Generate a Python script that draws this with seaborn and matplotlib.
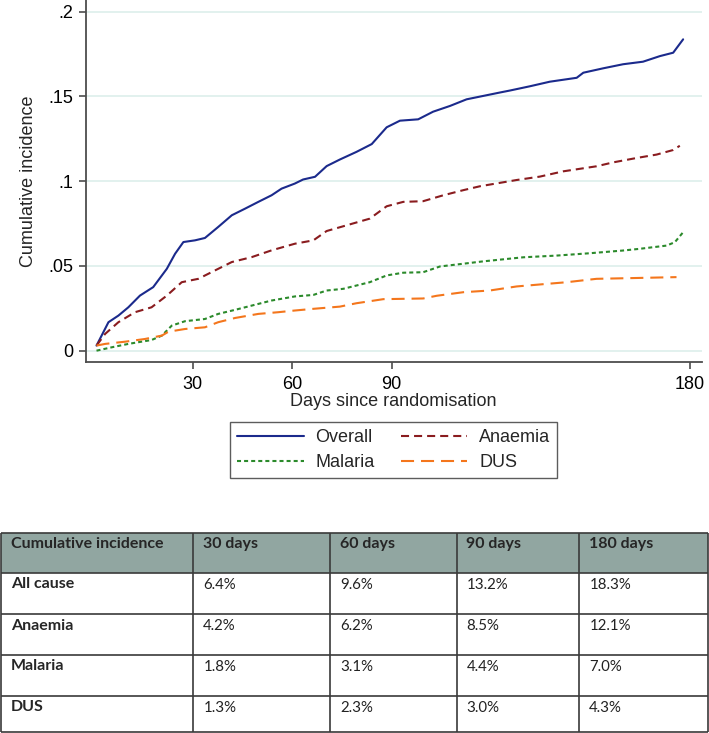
import numpy as np
import pandas as pd
import matplotlib
matplotlib.use("Agg")
import matplotlib.pyplot as plt
from matplotlib.lines import Line2D
import seaborn as sns

# cumulative incidence curves (day, value)
overall_days = [1, 4.6, 7.6, 10.6, 14.1, 18.1, 22.2, 24.7, 27.2, 30.7, 33.7, 37.7, 41.8, 45.8, 49.8,
                53.8, 56.8, 60.8, 63.3, 66.9, 70.4, 74.4, 79.4, 84.0, 88.5, 92.5, 98.0, 102.5, 107.6,
                112.6, 117.6, 122.6, 125.7, 131.7, 137.7, 145.8, 147.8, 153.8, 159.8, 165.8, 170.9,
                174.9, 177.9]
overall_vals = [0.003, 0.0168, 0.0207, 0.0256, 0.0325, 0.0375, 0.0483, 0.0572, 0.0641, 0.0651, 0.0665,
                0.073, 0.0799, 0.0838, 0.0878, 0.0917, 0.0956, 0.0986, 0.101, 0.1026, 0.1089, 0.1128,
                0.1173, 0.1219, 0.1318, 0.1357, 0.1365, 0.141, 0.1444, 0.1483, 0.1503, 0.1523, 0.1535,
                0.156, 0.1587, 0.161, 0.164, 0.1666, 0.169, 0.1705, 0.1738, 0.1758, 0.1837]

anaemia_days = [1, 3.6, 7.6, 12.6, 17.6, 22.2, 26.7, 31.7, 37.7, 41.8, 47.8, 53.8, 60.8, 66.4, 70.4,
                75.4, 83.4, 88.5, 93.5, 99.5, 105.6, 111.6, 116.6, 122.6, 127.7, 134.7, 141.7, 151.8,
                156.8, 163.9, 169.9, 174.9, 176.9]
anaemia_vals = [0.003, 0.0099, 0.0168, 0.0227, 0.0256, 0.0325, 0.0404, 0.0424, 0.0483, 0.0523, 0.0552,
                0.0592, 0.0631, 0.0651, 0.0706, 0.0734, 0.0779, 0.0852, 0.0878, 0.0882, 0.0917, 0.0947,
                0.097, 0.099, 0.1007, 0.1027, 0.1058, 0.1088, 0.1111, 0.1137, 0.1157, 0.1184, 0.1209]

malaria_days = [1, 5.6, 10.6, 17.6, 20.7, 23.7, 27.7, 33.7, 37.7, 42.8, 47.8, 53.8, 60.8, 66.4, 70.4,
                75.4, 83.4, 88.5, 93.5, 99.5, 104.6, 111.6, 117.6, 122.6, 129.7, 139.7, 149.8, 159.8,
                164.8, 172.9, 175.4, 177.9]
malaria_vals = [0.0, 0.002, 0.004, 0.0063, 0.0089, 0.0148, 0.0174, 0.0187, 0.0217, 0.0241, 0.0266,
                0.0296, 0.032, 0.0329, 0.0355, 0.0365, 0.0404, 0.0444, 0.046, 0.0463, 0.0497, 0.0513,
                0.0527, 0.0537, 0.0551, 0.0561, 0.0575, 0.0591, 0.0601, 0.062, 0.064, 0.0699]

dus_days = [1, 3.6, 9.6, 15.6, 20.7, 22.7, 27.7, 33.7, 37.7, 42.8, 49.8, 55.8, 60.8, 66.4, 74.4, 79.4,
            87.5, 99.5, 103.6, 111.6, 119.6, 127.7, 136.7, 142.8, 151.8, 161.8, 175.9]
dus_vals = [0.003, 0.004, 0.0053, 0.0069, 0.0089, 0.0112, 0.0128, 0.0138, 0.0168, 0.0193, 0.0217,
            0.0227, 0.0237, 0.0247, 0.026, 0.028, 0.0304, 0.0308, 0.0324, 0.0345, 0.0355, 0.0379,
            0.0394, 0.0404, 0.0424, 0.0428, 0.0434]

series_names = ["Overall", "Anaemia", "Malaria", "DUS"]

x_ticks = [30, 60, 90, 180]
y_ticks = [0, 0.05, 0.1, 0.15, 0.2]
y_tick_labels = ["0", ".05", ".1", ".15", ".2"]

table_header = ["Cumulative incidence", "30 days", "60 days", "90 days", "180 days"]
table_rows = ["All cause", "Anaemia", "Malaria", "DUS"]
table_values = [["6.4%", "9.6%", "13.2%", "18.3%"],
                ["4.2%", "6.2%", "8.5%", "12.1%"],
                ["1.8%", "3.1%", "4.4%", "7.0%"],
                ["1.3%", "2.3%", "3.0%", "4.3%"]]

palette = {"Overall": "#1b2a8c", "Anaemia": "#8a1c1f", "Malaria": "#2b8a2b", "DUS": "#f4761c"}
dashes = {"Overall": "", "Anaemia": (5.8, 3.6), "Malaria": (2.9, 2.2), "DUS": (9.4, 5.0)}

sns.set_style("white")
plt.rcParams["font.family"] = ["Liberation Sans", "DejaVu Sans"]
plt.rcParams["lines.scale_dashes"] = False

W, H = 709, 733
fig = plt.figure(figsize=(W / 100, H / 100), dpi=100)
ax = fig.add_axes([85.7 / W, 1 - 361.7 / H, (701.7 - 85.7) / W, 361.7 / H])

df = pd.concat([
    pd.DataFrame({"day": overall_days, "value": overall_vals, "series": "Overall"}),
    pd.DataFrame({"day": anaemia_days, "value": anaemia_vals, "series": "Anaemia"}),
    pd.DataFrame({"day": malaria_days, "value": malaria_vals, "series": "Malaria"}),
    pd.DataFrame({"day": dus_days, "value": dus_vals, "series": "DUS"}),
])

sns.lineplot(data=df, x="day", y="value", hue="series", style="series",
             hue_order=series_names, style_order=series_names,
             palette=palette, dashes=dashes, estimator=None, lw=1.5,
             legend=False, ax=ax)

ax.set_xlim(-2.26, 183.5)
ax.set_ylim(-0.0065, 0.2069)
ax.set_xticks(x_ticks)
ax.set_yticks(y_ticks)
ax.set_yticklabels(y_tick_labels)
ax.grid(axis="y", color="#e2f1ee", lw=1.4)
ax.grid(axis="x", visible=False)
ax.set_axisbelow(True)
for side in ["top", "right"]:
    ax.spines[side].set_visible(False)
for side in ["left", "bottom"]:
    ax.spines[side].set_color("#4d4d4d")
    ax.spines[side].set_linewidth(1.3)
ax.tick_params(bottom=True, left=True, direction="out", length=5, width=1.2,
               color="#4d4d4d", labelsize=13, labelcolor="black")
ax.tick_params(axis="x", pad=5)
ax.tick_params(axis="y", pad=4)
ax.set_xlabel("Days since randomisation", fontsize=13, labelpad=0)
ax.set_ylabel("Cumulative incidence", fontsize=13, labelpad=8)

handles = []
for s in series_names:
    if dashes[s] == "":
        handles.append(Line2D([0], [0], color=palette[s], lw=1.5, linestyle="-"))
    else:
        handles.append(Line2D([0], [0], color=palette[s], lw=1.5, dashes=dashes[s]))
order = [0, 2, 1, 3]
leg = fig.legend([handles[i] for i in order], [series_names[i] for i in order],
                 loc="upper center", bbox_to_anchor=(393.5 / W, 1 - 421.7 / H), ncol=2,
                 frameon=True, fancybox=False, edgecolor="#333333", fontsize=13,
                 handlelength=3.7, handletextpad=0.64, columnspacing=1.45,
                 borderpad=0.4, labelspacing=0.45, borderaxespad=0)
leg.get_frame().set_linewidth(1.0)

# table underneath
tax = fig.add_axes([0, 0, 1, 213 / H])
tax.set_xlim(0, W)
tax.set_ylim(733, 520)
tax.axis("off")
col_edges = [0.7, 193.3, 330, 456.5, 579.3, 708.3]
row_edges = [532.7, 572.7, 614, 655, 695.7, 732.3]
tax.fill_between([col_edges[0], col_edges[-1]], row_edges[0], row_edges[1], color="#91a6a1", lw=0)
tax.hlines(row_edges, col_edges[0], col_edges[-1], color="#3a3a3a", lw=1.2)
tax.vlines(col_edges, row_edges[0], row_edges[-1], color="#3a3a3a", lw=1.2)

tfont = ["Lato", "DejaVu Sans"]
for j, txt in enumerate(table_header):
    tax.text(col_edges[j] + 10, row_edges[0] + 4.5, txt, ha="left", va="top",
             fontsize=11.5, fontweight="bold", family=tfont)
for i, name in enumerate(table_rows):
    tax.text(col_edges[0] + 10, row_edges[i + 1] + 4.5, name, ha="left", va="top",
             fontsize=11.5, fontweight="bold", family=tfont)
    for j, v in enumerate(table_values[i]):
        tax.text(col_edges[j + 1] + 10, row_edges[i + 1] + 5, v, ha="left", va="top",
                 fontsize=10.8, family=tfont, color="#222222")

fig.savefig("out.png", dpi=100)
